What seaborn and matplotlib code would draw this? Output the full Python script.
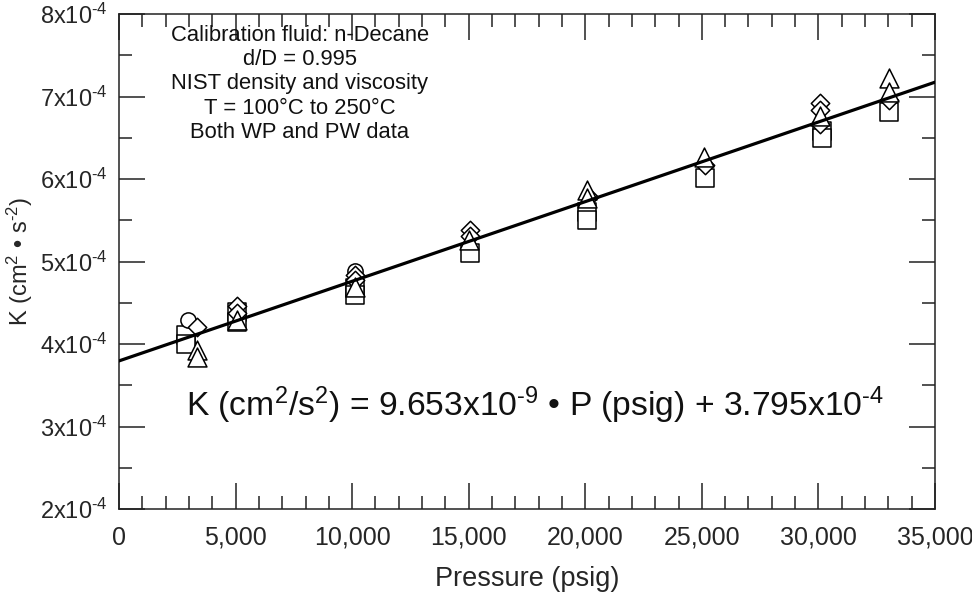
import numpy as np
import pandas as pd
import matplotlib
matplotlib.use("Agg")
import matplotlib.pyplot as plt
from matplotlib.ticker import MultipleLocator, FuncFormatter
import seaborn as sns

sns.set_theme(style="white")
plt.rcParams["font.family"] = ["Liberation Sans", "DejaVu Sans"]
plt.rcParams["mathtext.fontset"] = "custom"
plt.rcParams["mathtext.rm"] = "Liberation Sans"
plt.rcParams["mathtext.it"] = "Liberation Sans:italic"
plt.rcParams["mathtext.bf"] = "Liberation Sans:bold"

# Calibration points, pressure in psig and K in units of 1e-4 cm^2/s^2
square_p = [2870, 2870, 5060, 5060, 10120, 10120, 15055, 20070, 20070, 25135, 30150, 30150, 33030]
square_k = [4.11, 4.00, 4.39, 4.27, 4.68, 4.60, 5.10, 5.60, 5.50, 6.01, 6.58, 6.50, 6.81]

circle_p = [2960, 10120]
circle_k = [4.29, 4.88]

diamond_p = [3345, 5060, 5060, 10120, 10120, 15055, 15055, 20150, 25135, 30070, 30070, 30070, 33025]
diamond_k = [4.21, 4.46, 4.38, 4.84, 4.78, 5.38, 5.31, 5.78, 6.17, 6.92, 6.84, 6.67, 6.96]

triangle_p = [3345, 3345, 5060, 10120, 15000, 20070, 20070, 25100, 30070, 33025, 33025]
triangle_k = [3.93, 3.84, 4.29, 4.69, 5.26, 5.87, 5.77, 6.27, 6.76, 7.22, 7.05]

# Linear fit K = slope * P + intercept
slope = 9.653e-9
intercept = 3.795e-4
fit_p = [0, 35000]

df = pd.concat([
    pd.DataFrame({"P": square_p, "K": np.array(square_k) * 1e-4, "set": "sq"}),
    pd.DataFrame({"P": circle_p, "K": np.array(circle_k) * 1e-4, "set": "ci"}),
    pd.DataFrame({"P": diamond_p, "K": np.array(diamond_k) * 1e-4, "set": "di"}),
    pd.DataFrame({"P": triangle_p, "K": np.array(triangle_k) * 1e-4, "set": "tr"}),
], ignore_index=True)

fit = pd.DataFrame({"P": fit_p, "K": [slope * p + intercept for p in fit_p]})

fig = plt.figure(figsize=(9.72, 5.92), dpi=100)
ax = fig.add_axes([119 / 972, 1 - 509 / 592, (935 - 119) / 972, (509 - 14) / 592])

sizes = {"sq": 170, "ci": 120, "di": 88, "tr": 185}
markers = {"sq": "s", "ci": "o", "di": "D", "tr": "^"}
for key in ["sq", "ci", "di", "tr"]:
    sub = df[df["set"] == key]
    sns.scatterplot(data=sub, x="P", y="K", marker=markers[key], s=sizes[key],
                    color="white", edgecolor="black", linewidth=1.1,
                    ax=ax, legend=False, zorder=3)

sns.lineplot(data=fit, x="P", y="K", color="black", linewidth=2.3, ax=ax, zorder=4)

ax.set_xlim(0, 35000)
ax.set_ylim(2e-4, 8e-4)
ax.xaxis.set_major_locator(MultipleLocator(5000))
ax.xaxis.set_minor_locator(MultipleLocator(1000))
ax.yaxis.set_major_locator(MultipleLocator(1e-4))
ax.yaxis.set_minor_locator(MultipleLocator(0.5e-4))
ax.xaxis.set_major_formatter(FuncFormatter(lambda v, pos: f"{int(round(v)):,}"))
ax.yaxis.set_major_formatter(
    FuncFormatter(lambda v, pos: f"{int(round(v * 1e4))}x10$^{{\u2010 4}}$"))

ax.tick_params(which="both", direction="in", top=True, right=True, bottom=True, left=True,
               color="#222222", width=1.1)
ax.tick_params(which="major", length=19, pad=8)
ax.tick_params(axis="y", which="major", labelsize=17)
ax.tick_params(axis="x", which="major", labelsize=18, pad=12)
ax.tick_params(which="minor", length=9.5)
for s in ax.spines.values():
    s.set_color("#222222")
    s.set_linewidth(1.1)

ax.set_xlabel("Pressure (psig)", fontsize=19.5, labelpad=12)
ax.set_ylabel("K (cm$^{2}$ • s$^{\u20102}$)", fontsize=17, labelpad=4)

notes = ["Calibration fluid: n-Decane", "d/D = 0.995", "NIST density and viscosity",
         "T = 100°C to 250°C", "Both WP and PW data"]
ax.text(7760, 7.87e-4, "\n".join(notes), ha="center", va="top", fontsize=15.8,
        linespacing=1.21, color="#111111")

ax.text(17840, 3.26e-4,
        "K (cm$^{2}$/s$^{2}$) = 9.653x10$^{\u20109}$ • P (psig) + 3.795x10$^{\u20104}$",
        ha="center", va="center", fontsize=24.2, color="#111111")

fig.savefig("out.png", dpi=100)
